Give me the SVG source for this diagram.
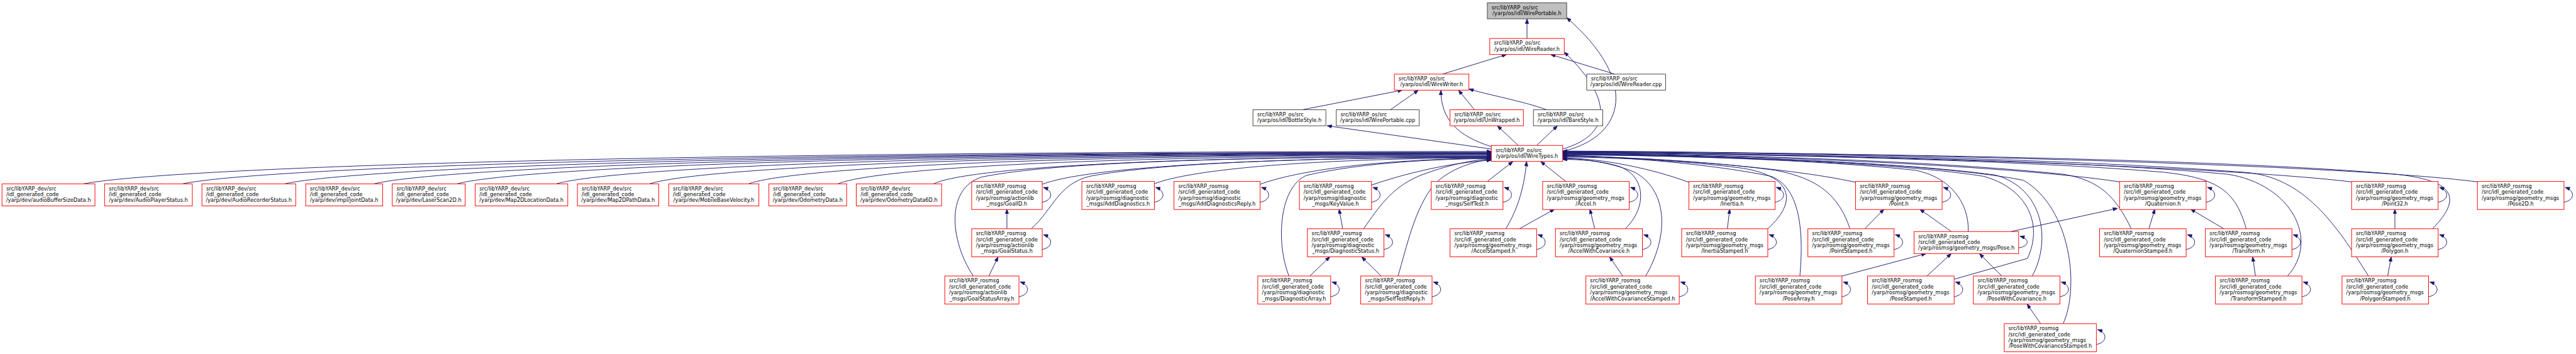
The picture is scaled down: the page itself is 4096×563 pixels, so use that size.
<svg xmlns="http://www.w3.org/2000/svg" width="4096" height="563" viewBox="0 0 4096 563">
<style>
.n rect{fill:#fff;stroke:#ff0000;stroke-width:1.5}
.k rect{stroke:#404040}
.root rect{fill:#bfbfbf;stroke:#404040}
text{font-family:"DejaVu Sans",sans-serif;font-size:13px;fill:#000}
.c{text-anchor:middle}
#edges path{fill:none;stroke:#191970;stroke-width:1.5;marker-end:url(#a)}
</style>
<defs>
<marker id="a" viewBox="0 0 12 9" refX="12" refY="4.5" markerWidth="12" markerHeight="9" orient="auto" markerUnits="userSpaceOnUse"><path d="M0,0L12,4.5L0,9Z" fill="#191970" stroke="#191970" stroke-width="1"/></marker>
</defs>
<rect width="4096" height="563" fill="#fff"/>
<g transform="scale(0.63711)">
<g id="edges">
<path d="M3811,96L3811,47"/>
<path d="M3600,185L3760,136"/>
<path d="M4030,185L3870,136"/>
<path d="M3250,274L3500,225"/>
<path d="M3470,274L3540,225"/>
<path d="M3680,274L3640,225"/>
<path d="M3860,274C3800,252 3710,236 3666,222"/>
<path d="M3722,372L3312,314"/>
<path d="M3789,363L3737,314"/>
<path d="M3835,363L3887,314"/>
<path d="M3722,366C3640,340 3596,300 3596,225"/>
<path d="M3900,372C4010,340 4040,260 3904,130"/>
<path d="M3900,378C4060,340 4090,200 3910,44"/>
<path d="M208,459C384,424 1438,378 3722,378"/>
<path d="M455,459C618,424 1598,380 3722,380"/>
<path d="M710,459C861,424 1764,381 3722,381"/>
<path d="M933,459C1072,424 1909,382 3722,382"/>
<path d="M1140,459C1269,424 2044,383 3722,383"/>
<path d="M1388,459C1505,424 2205,384 3722,384"/>
<path d="M1621,459C1726,424 2356,385 3722,385"/>
<path d="M1868,459C1961,424 2517,386 3722,386"/>
<path d="M2091,459C2173,424 2662,388 3722,388"/>
<path d="M2330,459C2400,424 2817,390 3722,390"/>
<path d="M2601,460C2680,430 2950,395 3722,392"/>
<path d="M2881,459C2950,430 3200,396 3722,394"/>
<path d="M3145,460C3220,432 3400,398 3722,395"/>
<path d="M3423,462C3500,435 3620,405 3722,400"/>
<path d="M2574,571C2630,520 2640,460 2720,440C2900,405 3300,393 3722,393"/>
<path d="M2429,689C2370,600 2360,470 2450,442C2650,400 3200,391 3722,391"/>
<path d="M3217,689C3185,610 3190,470 3260,438C3400,405 3600,396 3722,396"/>
<path d="M3403,571C3440,520 3470,470 3540,440C3610,412 3680,398 3722,397"/>
<path d="M3489,689C3510,620 3530,520 3580,460C3620,420 3680,402 3722,398"/>
<path d="M3712,453L3776,403"/>
<path d="M3908,453L3845,403"/>
<path d="M3758,571C3790,520 3805,460 3810,403"/>
<path d="M4056,571C4110,520 4110,440 4040,415C3990,400 3940,398 3900,398"/>
<path d="M4107,689C4160,600 4170,480 4080,430C4020,405 3950,396 3900,396"/>
<path d="M4215,455C4120,420 4000,396 3900,394"/>
<path d="M4412,571C4490,500 4470,440 4350,420C4200,400 4000,392 3900,392"/>
<path d="M4631,455C4450,415 4100,392 3900,390"/>
<path d="M4617,571C4590,490 4540,445 4430,425C4250,400 4000,390 3900,389"/>
<path d="M4492,689C4500,600 4500,470 4420,440C4250,405 4000,389 3900,388"/>
<path d="M4912,578C4915,520 4880,445 4780,425C4500,395 4100,387 3900,387"/>
<path d="M4877,697L5060,645C5100,560 5060,470 4950,440C4700,400 4100,386 3900,386"/>
<path d="M5072,689C5120,600 5100,470 4980,437C4700,398 4100,385 3900,385"/>
<path d="M5149,808C5190,720 5170,520 5050,450C4800,400 4100,384 3900,384"/>
<path d="M5290,454C5000,410 4300,385 3900,383"/>
<path d="M5319,571C5280,490 5240,450 5150,435C4800,398 4200,383 3900,382"/>
<path d="M5606,571C5580,480 5540,445 5400,430C5000,395 4200,382 3900,381"/>
<path d="M5709,689C5790,600 5720,460 5560,435C5100,392 4200,381 3900,380"/>
<path d="M5869,454C5500,410 4400,382 3900,380"/>
<path d="M6071,571C6150,490 6120,450 5980,435C5500,392 4400,380 3900,379"/>
<path d="M5911,689C5830,560 5750,440 5600,430C5100,392 4300,379 3900,378"/>
<path d="M6183,454C5800,405 4500,379 3900,377"/>
<path d="M2513,571L2513,522"/>
<path d="M2468,689L2491,641"/>
<path d="M3351,571L3342,522"/>
<path d="M3269,689L3319,641"/>
<path d="M3447,689L3398,641"/>
<path d="M3792,571L3880,522"/>
<path d="M3980,571L3968,522"/>
<path d="M4050,689L4017,641"/>
<path d="M4311,571L4317,522"/>
<path d="M4654,571L4702,522"/>
<path d="M4870,578L4791,522"/>
<path d="M5019,578L5285,520"/>
<path d="M4597,689L4807,633"/>
<path d="M4809,689L4870,633"/>
<path d="M4996,689L4940,633"/>
<path d="M5093,808L5059,759"/>
<path d="M5363,571L5378,522"/>
<path d="M5550,571L5467,522"/>
<path d="M5629,689L5622,641"/>
<path d="M5977,571L5977,522"/>
<path d="M5959,689L5968,641"/>
<path d="M2601,504.8c28,-5.6 28,-28.7 3,-37.1"/>
<path d="M2881,504.8c28,-5.6 28,-28.7 3,-37.1"/>
<path d="M3145,504.8c28,-5.6 28,-28.7 3,-37.1"/>
<path d="M3423,504.8c28,-5.6 28,-28.7 3,-37.1"/>
<path d="M3751,504.8c28,-5.6 28,-28.7 3,-37.1"/>
<path d="M4066,504.8c28,-5.6 28,-28.7 3,-37.1"/>
<path d="M4430,504.8c28,-5.6 28,-28.7 3,-37.1"/>
<path d="M4847,504.8c28,-5.6 28,-28.7 3,-37.1"/>
<path d="M5506,504.8c28,-5.6 28,-28.7 3,-37.1"/>
<path d="M6085,504.8c28,-5.6 28,-28.7 3,-37.1"/>
<path d="M6399,504.8c28,-5.6 28,-28.7 3,-37.1"/>
<path d="M2601,622.8c28,-5.6 28,-28.7 3,-37.1"/>
<path d="M3454,622.8c28,-5.6 28,-28.7 3,-37.1"/>
<path d="M3835,622.8c28,-5.6 28,-28.7 3,-37.1"/>
<path d="M4099,622.8c28,-5.6 28,-28.7 3,-37.1"/>
<path d="M4412,622.8c28,-5.6 28,-28.7 3,-37.1"/>
<path d="M4727,622.8c28,-5.6 28,-28.7 3,-37.1"/>
<path d="M5038,618.7c28,-4.4 28,-22.5 3,-29.1"/>
<path d="M5456,622.8c28,-5.6 28,-28.7 3,-37.1"/>
<path d="M5720,622.8c28,-5.6 28,-28.7 3,-37.1"/>
<path d="M6085,622.8c28,-5.6 28,-28.7 3,-37.1"/>
<path d="M2543,740.8c28,-5.6 28,-28.7 3,-37.1"/>
<path d="M3321,740.8c28,-5.6 28,-28.7 3,-37.1"/>
<path d="M3574,740.8c28,-5.6 28,-28.7 3,-37.1"/>
<path d="M4191,740.8c28,-5.6 28,-28.7 3,-37.1"/>
<path d="M4597,740.8c28,-5.6 28,-28.7 3,-37.1"/>
<path d="M4877,740.8c28,-5.6 28,-28.7 3,-37.1"/>
<path d="M5141,740.8c28,-5.6 28,-28.7 3,-37.1"/>
<path d="M5745,740.8c28,-5.6 28,-28.7 3,-37.1"/>
<path d="M6061,740.8c28,-5.6 28,-28.7 3,-37.1"/>
<path d="M5232,859.8c28,-5.6 28,-28.7 3,-37.1"/>
</g>

<g id="WirePortable_h" class="n root"><rect x="3712" y="7" width="198" height="40"/><text x="3722.5" y="23.1">src/libYARP_os/src</text><text class="c" x="3811" y="37.8">/yarp/os/idl/WirePortable.h</text></g>
<g id="WireReader_h" class="n"><rect x="3718" y="96" width="186" height="40"/><text x="3728.5" y="112.1">src/libYARP_os/src</text><text class="c" x="3811" y="126.8">/yarp/os/idl/WireReader.h</text></g>
<g id="WireWriter_h" class="n"><rect x="3480" y="185" width="186" height="40"/><text x="3490.5" y="201.1">src/libYARP_os/src</text><text class="c" x="3573" y="215.8">/yarp/os/idl/WireWriter.h</text></g>
<g id="WireReader_cpp" class="n k"><rect x="3960" y="185" width="197" height="40"/><text x="3970.5" y="201.1">src/libYARP_os/src</text><text class="c" x="4058.5" y="215.8">/yarp/os/idl/WireReader.cpp</text></g>
<g id="BottleStyle_h" class="n k"><rect x="3127" y="274" width="182" height="40"/><text x="3137.5" y="290.1">src/libYARP_os/src</text><text class="c" x="3218" y="304.8">/yarp/os/idl/BottleStyle.h</text></g>
<g id="WirePortable_cpp" class="n k"><rect x="3335" y="274" width="207" height="40"/><text x="3345.5" y="290.1">src/libYARP_os/src</text><text class="c" x="3438.5" y="304.8">/yarp/os/idl/WirePortable.cpp</text></g>
<g id="UnWrapped_h" class="n"><rect x="3619" y="274" width="183" height="40"/><text x="3629.5" y="290.1">src/libYARP_os/src</text><text class="c" x="3710.5" y="304.8">/yarp/os/idl/UnWrapped.h</text></g>
<g id="BareStyle_h" class="n k"><rect x="3827" y="274" width="173" height="40"/><text x="3837.5" y="290.1">src/libYARP_os/src</text><text class="c" x="3913.5" y="304.8">/yarp/os/idl/BareStyle.h</text></g>
<g id="WireTypes_h" class="n"><rect x="3722" y="363" width="178" height="40"/><text x="3732.5" y="379.1">src/libYARP_os/src</text><text class="c" x="3811" y="393.8">/yarp/os/idl/WireTypes.h</text></g>

<g id="audioBufferSizeData_h" class="n"><rect x="5" y="459" width="232" height="55"/><text x="15.5" y="475.3">src/libYARP_dev/src</text><text x="15.5" y="490">/idl_generated_code</text><text class="c" x="121" y="504.6">/yarp/dev/audioBufferSizeData.h</text></g>
<g id="AudioPlayerStatus_h" class="n"><rect x="261" y="459" width="219" height="55"/><text x="271.5" y="475.3">src/libYARP_dev/src</text><text x="271.5" y="490">/idl_generated_code</text><text class="c" x="370.5" y="504.6">/yarp/dev/AudioPlayerStatus.h</text></g>
<g id="AudioRecorderStatus_h" class="n"><rect x="504" y="459" width="234" height="55"/><text x="514.5" y="475.3">src/libYARP_dev/src</text><text x="514.5" y="490">/idl_generated_code</text><text class="c" x="621" y="504.6">/yarp/dev/AudioRecorderStatus.h</text></g>
<g id="jointData_h" class="n"><rect x="763" y="459" width="192" height="55"/><text x="773.5" y="475.3">src/libYARP_dev/src</text><text x="773.5" y="490">/idl_generated_code</text><text class="c" x="859" y="504.6">/yarp/dev/impl/jointData.h</text></g>
<g id="LaserScan2D_h" class="n"><rect x="979" y="459" width="182" height="55"/><text x="989.5" y="475.3">src/libYARP_dev/src</text><text x="989.5" y="490">/idl_generated_code</text><text class="c" x="1070" y="504.6">/yarp/dev/LaserScan2D.h</text></g>
<g id="Map2DLocationData_h" class="n"><rect x="1186" y="459" width="231" height="55"/><text x="1196.5" y="475.3">src/libYARP_dev/src</text><text x="1196.5" y="490">/idl_generated_code</text><text class="c" x="1301.5" y="504.6">/yarp/dev/Map2DLocationData.h</text></g>
<g id="Map2DPathData_h" class="n"><rect x="1441" y="459" width="203" height="55"/><text x="1451.5" y="475.3">src/libYARP_dev/src</text><text x="1451.5" y="490">/idl_generated_code</text><text class="c" x="1542.5" y="504.6">/yarp/dev/Map2DPathData.h</text></g>
<g id="MobileBaseVelocity_h" class="n"><rect x="1669" y="459" width="225" height="55"/><text x="1679.5" y="475.3">src/libYARP_dev/src</text><text x="1679.5" y="490">/idl_generated_code</text><text class="c" x="1781.5" y="504.6">/yarp/dev/MobileBaseVelocity.h</text></g>
<g id="OdometryData_h" class="n"><rect x="1919" y="459" width="194" height="55"/><text x="1929.5" y="475.3">src/libYARP_dev/src</text><text x="1929.5" y="490">/idl_generated_code</text><text class="c" x="2016" y="504.6">/yarp/dev/OdometryData.h</text></g>
<g id="OdometryData6D_h" class="n"><rect x="2137" y="459" width="213" height="55"/><text x="2147.5" y="475.3">src/libYARP_dev/src</text><text x="2147.5" y="490">/idl_generated_code</text><text class="c" x="2243.5" y="504.6">/yarp/dev/OdometryData6D.h</text></g>

<g id="GoalID_h" class="n"><rect x="2425" y="453" width="176" height="70"/><text x="2435.5" y="469.5">src/libYARP_rosmsg</text><text x="2435.5" y="484.2">/src/idl_generated_code</text><text x="2435.5" y="498.8">/yarp/rosmsg/actionlib</text><text class="c" x="2513" y="513.5">_msgs/GoalID.h</text></g>
<g id="AddDiagnostics_h" class="n"><rect x="2700" y="453" width="181" height="70"/><text x="2710.5" y="469.5">src/libYARP_rosmsg</text><text x="2710.5" y="484.2">/src/idl_generated_code</text><text x="2710.5" y="498.8">/yarp/rosmsg/diagnostic</text><text class="c" x="2790.5" y="513.5">_msgs/AddDiagnostics.h</text></g>
<g id="AddDiagnosticsReply_h" class="n"><rect x="2930" y="453" width="215" height="70"/><text x="2940.5" y="469.5">src/libYARP_rosmsg</text><text x="2940.5" y="484.2">/src/idl_generated_code</text><text x="2940.5" y="498.8">/yarp/rosmsg/diagnostic</text><text class="c" x="3037.5" y="513.5">_msgs/AddDiagnosticsReply.h</text></g>
<g id="KeyValue_h" class="n"><rect x="3243" y="453" width="180" height="70"/><text x="3253.5" y="469.5">src/libYARP_rosmsg</text><text x="3253.5" y="484.2">/src/idl_generated_code</text><text x="3253.5" y="498.8">/yarp/rosmsg/diagnostic</text><text class="c" x="3333" y="513.5">_msgs/KeyValue.h</text></g>
<g id="SelfTest_h" class="n"><rect x="3572" y="453" width="179" height="70"/><text x="3582.5" y="469.5">src/libYARP_rosmsg</text><text x="3582.5" y="484.2">/src/idl_generated_code</text><text x="3582.5" y="498.8">/yarp/rosmsg/diagnostic</text><text class="c" x="3661.5" y="513.5">_msgs/SelfTest.h</text></g>
<g id="Accel_h" class="n"><rect x="3850" y="453" width="216" height="70"/><text x="3860.5" y="469.5">src/libYARP_rosmsg</text><text x="3860.5" y="484.2">/src/idl_generated_code</text><text x="3860.5" y="498.8">/yarp/rosmsg/geometry_msgs</text><text class="c" x="3958" y="513.5">/Accel.h</text></g>
<g id="Inertia_h" class="n"><rect x="4215" y="453" width="215" height="70"/><text x="4225.5" y="469.5">src/libYARP_rosmsg</text><text x="4225.5" y="484.2">/src/idl_generated_code</text><text x="4225.5" y="498.8">/yarp/rosmsg/geometry_msgs</text><text class="c" x="4322.5" y="513.5">/Inertia.h</text></g>
<g id="Point_h" class="n"><rect x="4631" y="453" width="216" height="70"/><text x="4641.5" y="469.5">src/libYARP_rosmsg</text><text x="4641.5" y="484.2">/src/idl_generated_code</text><text x="4641.5" y="498.8">/yarp/rosmsg/geometry_msgs</text><text class="c" x="4739" y="513.5">/Point.h</text></g>
<g id="Quaternion_h" class="n"><rect x="5290" y="453" width="216" height="70"/><text x="5300.5" y="469.5">src/libYARP_rosmsg</text><text x="5300.5" y="484.2">/src/idl_generated_code</text><text x="5300.5" y="498.8">/yarp/rosmsg/geometry_msgs</text><text class="c" x="5398" y="513.5">/Quaternion.h</text></g>
<g id="Point32_h" class="n"><rect x="5869" y="453" width="216" height="70"/><text x="5879.5" y="469.5">src/libYARP_rosmsg</text><text x="5879.5" y="484.2">/src/idl_generated_code</text><text x="5879.5" y="498.8">/yarp/rosmsg/geometry_msgs</text><text class="c" x="5977" y="513.5">/Point32.h</text></g>
<g id="Pose2D_h" class="n"><rect x="6183" y="453" width="216" height="70"/><text x="6193.5" y="469.5">src/libYARP_rosmsg</text><text x="6193.5" y="484.2">/src/idl_generated_code</text><text x="6193.5" y="498.8">/yarp/rosmsg/geometry_msgs</text><text class="c" x="6291" y="513.5">/Pose2D.h</text></g>

<g id="GoalStatus_h" class="n"><rect x="2425" y="571" width="176" height="70"/><text x="2435.5" y="587.5">src/libYARP_rosmsg</text><text x="2435.5" y="602.2">/src/idl_generated_code</text><text x="2435.5" y="616.8">/yarp/rosmsg/actionlib</text><text class="c" x="2513" y="631.5">_msgs/GoalStatus.h</text></g>
<g id="DiagnosticStatus_h" class="n"><rect x="3263" y="571" width="191" height="70"/><text x="3273.5" y="587.5">src/libYARP_rosmsg</text><text x="3273.5" y="602.2">/src/idl_generated_code</text><text x="3273.5" y="616.8">/yarp/rosmsg/diagnostic</text><text class="c" x="3358.5" y="631.5">_msgs/DiagnosticStatus.h</text></g>
<g id="AccelStamped_h" class="n"><rect x="3619" y="571" width="216" height="70"/><text x="3629.5" y="587.5">src/libYARP_rosmsg</text><text x="3629.5" y="602.2">/src/idl_generated_code</text><text x="3629.5" y="616.8">/yarp/rosmsg/geometry_msgs</text><text class="c" x="3727" y="631.5">/AccelStamped.h</text></g>
<g id="AccelWithCovariance_h" class="n"><rect x="3882" y="571" width="217" height="70"/><text x="3892.5" y="587.5">src/libYARP_rosmsg</text><text x="3892.5" y="602.2">/src/idl_generated_code</text><text x="3892.5" y="616.8">/yarp/rosmsg/geometry_msgs</text><text class="c" x="3990.5" y="631.5">/AccelWithCovariance.h</text></g>
<g id="InertiaStamped_h" class="n"><rect x="4197" y="571" width="215" height="70"/><text x="4207.5" y="587.5">src/libYARP_rosmsg</text><text x="4207.5" y="602.2">/src/idl_generated_code</text><text x="4207.5" y="616.8">/yarp/rosmsg/geometry_msgs</text><text class="c" x="4304.5" y="631.5">/InertiaStamped.h</text></g>
<g id="PointStamped_h" class="n"><rect x="4512" y="571" width="215" height="70"/><text x="4522.5" y="587.5">src/libYARP_rosmsg</text><text x="4522.5" y="602.2">/src/idl_generated_code</text><text x="4522.5" y="616.8">/yarp/rosmsg/geometry_msgs</text><text class="c" x="4619.5" y="631.5">/PointStamped.h</text></g>
<g id="Pose_h" class="n"><rect x="4777" y="578" width="261" height="55"/><text x="4787.5" y="594.3">src/libYARP_rosmsg</text><text x="4787.5" y="609">/src/idl_generated_code</text><text class="c" x="4907.5" y="623.6">/yarp/rosmsg/geometry_msgs/Pose.h</text></g>
<g id="QuaternionStamped_h" class="n"><rect x="5240" y="571" width="216" height="70"/><text x="5250.5" y="587.5">src/libYARP_rosmsg</text><text x="5250.5" y="602.2">/src/idl_generated_code</text><text x="5250.5" y="616.8">/yarp/rosmsg/geometry_msgs</text><text class="c" x="5348" y="631.5">/QuaternionStamped.h</text></g>
<g id="Transform_h" class="n"><rect x="5504" y="571" width="216" height="70"/><text x="5514.5" y="587.5">src/libYARP_rosmsg</text><text x="5514.5" y="602.2">/src/idl_generated_code</text><text x="5514.5" y="616.8">/yarp/rosmsg/geometry_msgs</text><text class="c" x="5612" y="631.5">/Transform.h</text></g>
<g id="Polygon_h" class="n"><rect x="5869" y="571" width="216" height="70"/><text x="5879.5" y="587.5">src/libYARP_rosmsg</text><text x="5879.5" y="602.2">/src/idl_generated_code</text><text x="5879.5" y="616.8">/yarp/rosmsg/geometry_msgs</text><text class="c" x="5977" y="631.5">/Polygon.h</text></g>

<g id="GoalStatusArray_h" class="n"><rect x="2358" y="689" width="185" height="70"/><text x="2368.5" y="705.5">src/libYARP_rosmsg</text><text x="2368.5" y="720.2">/src/idl_generated_code</text><text x="2368.5" y="734.8">/yarp/rosmsg/actionlib</text><text class="c" x="2450.5" y="749.5">_msgs/GoalStatusArray.h</text></g>
<g id="DiagnosticArray_h" class="n"><rect x="3139" y="689" width="182" height="70"/><text x="3149.5" y="705.5">src/libYARP_rosmsg</text><text x="3149.5" y="720.2">/src/idl_generated_code</text><text x="3149.5" y="734.8">/yarp/rosmsg/diagnostic</text><text class="c" x="3230" y="749.5">_msgs/DiagnosticArray.h</text></g>
<g id="SelfTestReply_h" class="n"><rect x="3396" y="689" width="178" height="70"/><text x="3406.5" y="705.5">src/libYARP_rosmsg</text><text x="3406.5" y="720.2">/src/idl_generated_code</text><text x="3406.5" y="734.8">/yarp/rosmsg/diagnostic</text><text class="c" x="3485" y="749.5">_msgs/SelfTestReply.h</text></g>
<g id="AccelWithCovarianceStamped_h" class="n"><rect x="3958" y="689" width="233" height="70"/><text x="3968.5" y="705.5">src/libYARP_rosmsg</text><text x="3968.5" y="720.2">/src/idl_generated_code</text><text x="3968.5" y="734.8">/yarp/rosmsg/geometry_msgs</text><text class="c" x="4074.5" y="749.5">/AccelWithCovarianceStamped.h</text></g>
<g id="PoseArray_h" class="n"><rect x="4381" y="689" width="216" height="70"/><text x="4391.5" y="705.5">src/libYARP_rosmsg</text><text x="4391.5" y="720.2">/src/idl_generated_code</text><text x="4391.5" y="734.8">/yarp/rosmsg/geometry_msgs</text><text class="c" x="4489" y="749.5">/PoseArray.h</text></g>
<g id="PoseStamped_h" class="n"><rect x="4661" y="689" width="216" height="70"/><text x="4671.5" y="705.5">src/libYARP_rosmsg</text><text x="4671.5" y="720.2">/src/idl_generated_code</text><text x="4671.5" y="734.8">/yarp/rosmsg/geometry_msgs</text><text class="c" x="4769" y="749.5">/PoseStamped.h</text></g>
<g id="PoseWithCovariance_h" class="n"><rect x="4925" y="689" width="216" height="70"/><text x="4935.5" y="705.5">src/libYARP_rosmsg</text><text x="4935.5" y="720.2">/src/idl_generated_code</text><text x="4935.5" y="734.8">/yarp/rosmsg/geometry_msgs</text><text class="c" x="5033" y="749.5">/PoseWithCovariance.h</text></g>
<g id="TransformStamped_h" class="n"><rect x="5529" y="689" width="216" height="70"/><text x="5539.5" y="705.5">src/libYARP_rosmsg</text><text x="5539.5" y="720.2">/src/idl_generated_code</text><text x="5539.5" y="734.8">/yarp/rosmsg/geometry_msgs</text><text class="c" x="5637" y="749.5">/TransformStamped.h</text></g>
<g id="PolygonStamped_h" class="n"><rect x="5845" y="689" width="216" height="70"/><text x="5855.5" y="705.5">src/libYARP_rosmsg</text><text x="5855.5" y="720.2">/src/idl_generated_code</text><text x="5855.5" y="734.8">/yarp/rosmsg/geometry_msgs</text><text class="c" x="5953" y="749.5">/PolygonStamped.h</text></g>

<g id="PoseWithCovarianceStamped_h" class="n"><rect x="5002" y="808" width="230" height="70"/><text x="5012.5" y="824.5">src/libYARP_rosmsg</text><text x="5012.5" y="839.2">/src/idl_generated_code</text><text x="5012.5" y="853.8">/yarp/rosmsg/geometry_msgs</text><text class="c" x="5117" y="868.5">/PoseWithCovarianceStamped.h</text></g>
</g>
</svg>
